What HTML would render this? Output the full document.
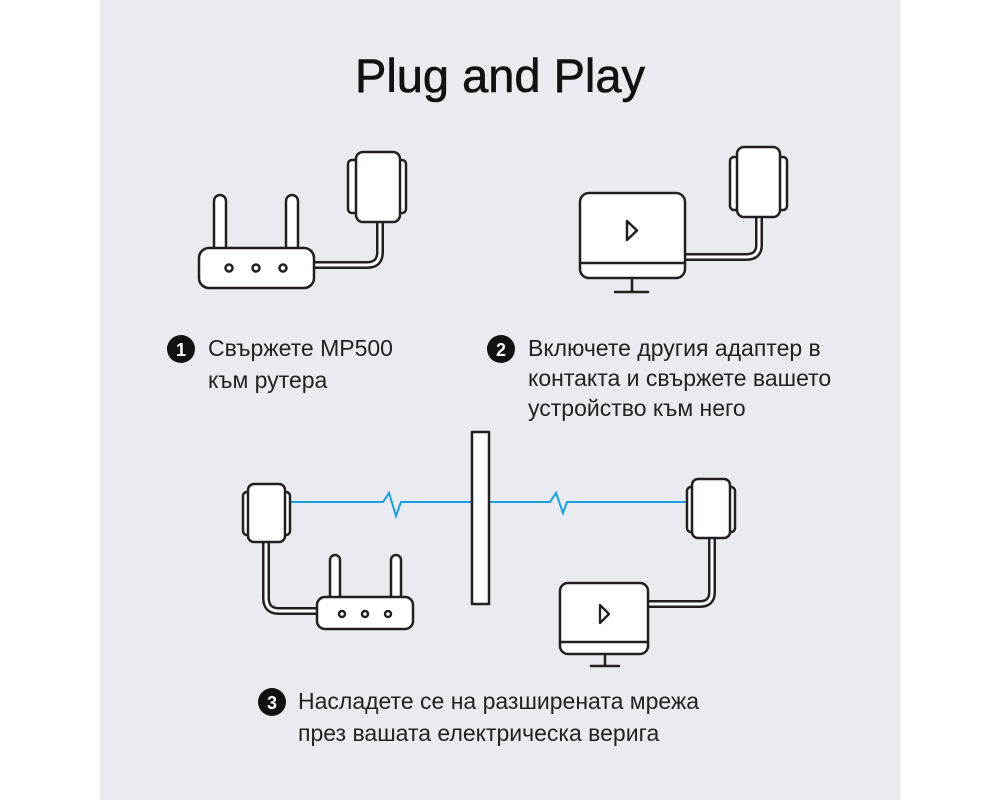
<!DOCTYPE html>
<html><head><meta charset="utf-8"><style>
html,body{margin:0;padding:0;background:#fff;}
body{width:1000px;height:800px;position:relative;overflow:hidden;font-family:"Liberation Sans",sans-serif;}
#panel{position:absolute;left:100px;top:0;width:800px;height:800px;background:#eaebf0;}
svg{position:absolute;left:0;top:0;}
</style></head><body>
<div id="panel"></div>
<svg width="1000" height="800" viewBox="0 0 1000 800" xmlns="http://www.w3.org/2000/svg">
<g font-family="Liberation Sans, sans-serif">
<text x="500" y="92" text-anchor="middle" font-size="47" fill="#111" stroke="#111" stroke-width="0.6">Plug and Play</text>
</g>
<g stroke="#231f20" stroke-width="2.5" fill="#fff" stroke-linejoin="round" stroke-linecap="round">
<path d="M380 222 V252 Q380 265 367 265 H313" stroke-width="8" fill="none"/>
<path d="M380 222 V252 Q380 265 367 265 H313" stroke="#fff" stroke-width="3" fill="none"/>
<rect x="214" y="195" width="12" height="60" rx="6"/>
<rect x="286" y="195" width="12" height="60" rx="6"/>
<rect x="199" y="248" width="115" height="40" rx="10"/>
<circle cx="229" cy="268" r="3.5"/><circle cx="256" cy="268" r="3.5"/><circle cx="283" cy="268" r="3.5"/>
<rect x="348" y="160" width="58" height="53" rx="4"/>
<rect x="356" y="152" width="44" height="70" rx="7"/>

<path d="M759 217 V245 Q759 257 746 257 H685" stroke-width="8" fill="none"/>
<path d="M759 217 V245 Q759 257 746 257 H685" stroke="#fff" stroke-width="3" fill="none"/>
<line x1="632" y1="278" x2="632" y2="291"/><line x1="615" y1="292" x2="648" y2="292"/>
<rect x="580" y="193" width="105" height="85" rx="9"/>
<line x1="580" y1="263" x2="685" y2="263"/>
<path d="M627 221 L627 240 L637 230.5 Z" stroke-width="2.5"/>
<rect x="730" y="157" width="57" height="53" rx="4"/>
<rect x="737" y="147" width="43" height="70" rx="7"/>

<polyline points="290,502 383,502 389,493 396,516 401,502 472,502" stroke="#1aa0e0" stroke-width="2" fill="none" stroke-linejoin="miter"/>
<polyline points="489,502 550,502 556,493 563,513 567,502 687,502" stroke="#1aa0e0" stroke-width="2" fill="none" stroke-linejoin="miter"/>
<rect x="472" y="432" width="17" height="172"/>

<path d="M266 542 V598 Q266 611 279 611 H317" stroke-width="8" fill="none"/>
<path d="M266 542 V598 Q266 611 279 611 H317" stroke="#fff" stroke-width="3" fill="none"/>
<rect x="243" y="492" width="47" height="43" rx="4"/>
<rect x="248" y="484" width="37" height="58" rx="6"/>
<rect x="330" y="555" width="10" height="50" rx="5"/>
<rect x="391" y="555" width="10" height="50" rx="5"/>
<rect x="317" y="597" width="96" height="32" rx="8"/>
<circle cx="342" cy="614" r="3"/><circle cx="365" cy="614" r="3"/><circle cx="388" cy="614" r="3"/>

<path d="M712 538 V592 Q712 604 700 604 H648" stroke-width="8" fill="none"/>
<path d="M712 538 V592 Q712 604 700 604 H648" stroke="#fff" stroke-width="3" fill="none"/>
<rect x="687" y="487" width="48" height="45" rx="4"/>
<rect x="692" y="479" width="38" height="59" rx="6"/>
<line x1="605" y1="654" x2="605" y2="665"/><line x1="591" y1="666" x2="619" y2="666"/>
<rect x="560" y="583" width="88" height="71" rx="8"/>
<line x1="560" y1="642" x2="648" y2="642"/>
<path d="M600 605 L600 623 L609 614 Z" stroke-width="2.3"/>
</g>
<g font-family="Liberation Sans, sans-serif" font-size="23" fill="#222">
<circle cx="181" cy="349" r="14" fill="#111"/>
<text x="181" y="356" text-anchor="middle" fill="#fff" font-weight="bold" font-size="18">1</text>
<text x="208" y="356">Свържете MP500</text>
<text x="208" y="388">към рутера</text>
<circle cx="501" cy="349" r="14" fill="#111"/>
<text x="501" y="356" text-anchor="middle" fill="#fff" font-weight="bold" font-size="18">2</text>
<text x="528" y="356">Включете другия адаптер в</text>
<text x="528" y="386">контакта и свържете вашето</text>
<text x="528" y="416">устройство към него</text>
<circle cx="272" cy="702" r="14" fill="#111"/>
<text x="272" y="709" text-anchor="middle" fill="#fff" font-weight="bold" font-size="18">3</text>
<text x="298" y="709">Насладете се на разширената мрежа</text>
<text x="298" y="741">през вашата електрическа верига</text>
</g>
</svg>
</body></html>
